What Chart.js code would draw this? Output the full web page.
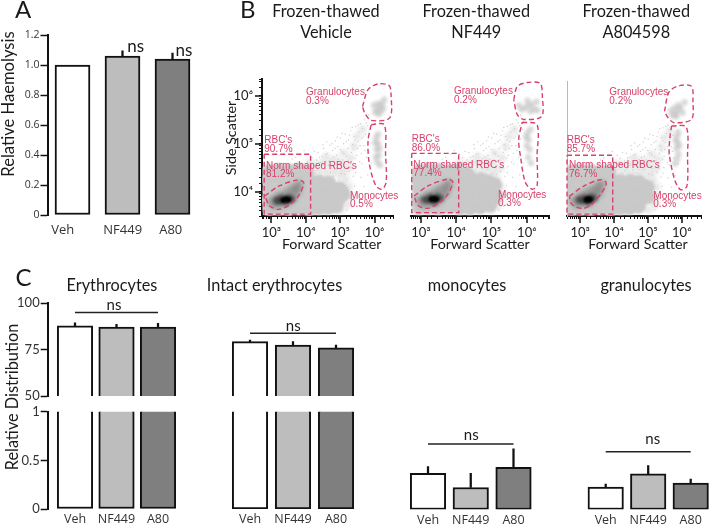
<!DOCTYPE html>
<html>
<head>
<meta charset="utf-8">
<script src="https://cdn.jsdelivr.net/npm/chart.js@4"></script>
<style>
    html, body { margin: 0; padding: 0; background: #fff; }
    body { position: relative; width: 709px; height: 525px; overflow: hidden; }
    canvas { position: absolute; }
</style>
</head>
<body>
<script>
// Bar panels: shared groups, then value / top of error bar for each panel
const groups = ["Veh", "NF449", "A80"];
const haemolysis = [1.0, 1.06, 1.04];
const haemolysisErr = [null, 1.095, 1.08];
const erythrocytes = [87.8, 87.2, 87.2];
const erythrocytesErr = [89.5, 88.7, 89.2];
const intact = [79.3, 77.4, 76.0];
const intactErr = [80.2, 79.3, 77.5];
const monocytes = [0.37, 0.225, 0.43];
const monocytesErr = [0.44, 0.37, 0.62];
const granulocytes = [0.23, 0.365, 0.27];
const granulocytesErr = [0.26, 0.45, 0.31];

// Height of the "ns" bracket in each panel
const erythrocytesNs = 95.1;
const intactNs = 83.8;
const monocytesNs = 0.67;
const granulocytesNs = 0.59;

// Flow plots: every pair is [log10 forward scatter, log10 side scatter]
const sparseDots = [[4.05,4.62],[4.12,4.48],[4.18,4.71],[4.22,4.55],[4.27,4.39],[4.31,4.66],[4.36,4.82],[4.38,4.5],[4.42,4.61],[4.45,4.34],[4.48,4.74],[4.52,4.9],[4.55,4.47],[4.57,4.63],[4.6,4.28],[4.63,4.8],[4.66,4.55],[4.7,4.97],[4.71,4.4],[4.74,4.69],[4.78,4.86],[4.8,4.32],[4.83,4.6],[4.86,5.06],[4.88,4.47],[4.9,4.76],[4.93,4.94],[4.96,4.25],[4.98,4.58],[5.01,5.12],[5.03,4.38],[5.05,4.83],[5.08,4.66],[5.1,5.0],[5.12,4.5],[5.15,5.2],[5.17,4.22],[5.19,4.74],[5.22,4.9],[5.24,5.08],[5.26,4.42],[5.29,4.6],[5.31,5.27],[5.33,4.82],[5.36,4.98],[5.38,4.32],[5.4,5.15],[5.43,4.7],[5.45,5.36],[5.47,4.52],[5.5,4.9],[5.52,5.05],[5.54,5.24],[5.57,4.62],[5.59,5.42],[5.62,4.8],[5.64,5.12],[5.66,5.32],[5.69,4.96],[5.71,5.5],[5.74,5.2],[5.77,4.72],[5.8,5.38],[5.83,5.6],
    [4.09,4.78],[4.16,4.6],[4.25,4.84],[4.33,4.45],[4.4,4.72],[4.47,4.56],[4.5,4.98],[4.58,4.78],[4.61,5.04],[4.68,4.64],[4.73,4.48],[4.76,5.0],[4.81,4.73],[4.85,4.9],[4.91,5.14],[4.95,4.68],[5.0,4.88],[5.06,5.22],[5.11,4.79],[5.14,4.36],[5.18,5.05],[5.23,4.66],[5.27,5.18],[5.32,4.5],[5.35,5.34],[5.39,4.88],[5.44,5.08],[5.48,4.76],[5.53,5.4],[5.58,4.96],[5.63,4.58],[5.68,5.16],[5.72,4.86],[5.76,5.44],[5.82,5.1],[5.88,5.3],[5.92,5.48],[5.6,4.3],[5.7,4.1],[5.5,3.95],[5.42,4.12],[5.62,3.85],[5.8,4.35],[5.9,4.6],[3.7,4.72],[3.85,4.78],[3.95,4.86],[3.6,4.68],[5.3,3.85],[5.35,3.7],[5.45,4.4],[5.2,3.62]];
const hazeDots = [[4.2,4.42],[4.4,4.42],[4.6,4.4],[4.8,4.4],[5.0,4.34],[5.15,4.26],[4.3,4.56],[4.5,4.6],[4.7,4.56],[4.9,4.5],[5.1,4.42],[4.1,4.6],[4.6,4.72],[4.85,4.66],[5.05,4.6],[5.25,4.5],[5.3,4.7],[5.1,4.8],[5.4,4.95],[5.5,5.15],[5.65,5.3],[5.25,4.1],[5.28,3.9],[5.2,3.72],[5.0,3.62]];

const bodyVehicle = [[2.95,3.64],[3.22,3.65],[3.5,3.64],[3.8,3.66],[4.1,3.64],[4.38,3.66],[4.65,3.67],[4.88,3.7],
    [2.9,3.82],[3.2,3.84],[3.52,3.83],[3.82,3.85],[4.1,3.82],[4.4,3.85],[4.7,3.84],[4.95,3.86],[5.08,3.95],
    [2.95,4.03],[3.25,4.05],[3.55,4.04],[3.85,4.06],[4.12,4.03],[4.42,4.06],[4.72,4.04],[4.98,4.06],
    [2.92,4.24],[3.22,4.26],[3.5,4.25],[3.8,4.26],[4.1,4.22],[4.38,4.2],[4.66,4.18],
    [2.95,4.42],[3.22,4.44],[3.52,4.43],[3.8,4.45],[4.02,4.4]];
const bodyNF449 = [[2.95,3.66],[3.22,3.67],[3.5,3.66],[3.8,3.68],[4.1,3.66],[4.38,3.66],[4.68,3.68],[4.95,3.72],
    [2.9,3.84],[3.2,3.85],[3.52,3.84],[3.82,3.86],[4.1,3.84],[4.4,3.86],[4.7,3.85],[4.98,3.86],[5.12,3.9],
    [2.95,4.05],[3.25,4.06],[3.55,4.05],[3.85,4.07],[4.12,4.05],[4.42,4.06],[4.72,4.06],[5.0,4.08],[5.08,4.14],
    [2.92,4.25],[3.22,4.27],[3.5,4.26],[3.8,4.27],[4.1,4.26],[4.4,4.27],[4.7,4.24],[4.9,4.2],
    [2.95,4.42],[3.22,4.45],[3.52,4.44],[3.8,4.42],[4.0,4.42],[4.3,4.36]];
const bodyA80 = [[2.75,3.64],[3.02,3.65],[3.3,3.64],[3.6,3.66],[3.9,3.64],[4.18,3.66],[4.45,3.67],[4.72,3.7],
    [2.72,3.82],[3.0,3.84],[3.32,3.83],[3.62,3.85],[3.9,3.82],[4.2,3.85],[4.5,3.84],[4.78,3.86],[5.0,3.9],
    [2.75,4.03],[3.05,4.05],[3.35,4.04],[3.65,4.06],[3.92,4.03],[4.22,4.06],[4.52,4.04],[4.8,4.06],[4.98,4.1],
    [2.72,4.24],[3.02,4.26],[3.3,4.25],[3.6,4.26],[3.9,4.24],[4.18,4.22],[4.48,4.22],[4.74,4.2],
    [2.75,4.42],[3.02,4.44],[3.32,4.43],[3.6,4.42],[3.85,4.42]];

const midVehicle = [[3.0,3.8],[3.1,3.72],[3.2,3.9],[3.3,3.75],[3.4,3.95],[3.5,3.8],[3.55,4.02],[3.65,3.9],[3.7,4.08],[3.8,4.14],[3.75,4.0],[3.25,3.82]];
const darkVehicle = [[3.14,3.82],[3.22,3.8],[3.3,3.87],[3.42,3.78],[3.5,3.88],[3.6,3.84]];
const coreVehicle = [[3.34,3.82],[3.42,3.84],[3.5,3.83]];
const midNF449 = [[2.98,3.82],[3.08,3.73],[3.18,3.92],[3.28,3.76],[3.38,3.97],[3.48,3.8],[3.52,4.04],[3.62,3.92],[3.68,4.1],[3.78,4.16],[3.72,4.0],[3.22,3.84]];
const darkNF449 = [[3.1,3.84],[3.2,3.82],[3.28,3.89],[3.38,3.78],[3.46,3.9],[3.56,3.86]];
const coreNF449 = [[3.3,3.84],[3.37,3.85],[3.44,3.84]];
const midA80 = [[2.82,3.82],[2.92,3.73],[3.02,3.92],[3.12,3.76],[3.2,3.98],[3.3,3.8],[3.36,4.04],[3.46,3.94],[3.52,4.1],[3.62,4.16],[3.55,4.0],[3.05,3.84]];
const darkA80 = [[2.96,3.84],[3.06,3.82],[3.14,3.88],[3.24,3.78],[3.32,3.9],[3.42,3.86]];
const coreA80 = [[3.18,3.83],[3.24,3.85],[3.3,3.84]];

const cellsVehicle = [[6.15,5.78],[6.08,5.72],[6.22,5.84],[6.02,5.66],[6.18,5.68],[6.28,5.92],[6.1,5.84],[5.98,5.8],[6.25,5.74],[6.12,5.62],
    [6.05,5.12],[6.1,5.0],[6.06,4.88],[6.12,4.76],[6.08,4.62],[6.14,4.9],[6.04,4.72],[6.1,5.2],[6.16,4.55],[6.02,5.02]];
const cellsNF449 = [[6.05,5.8],[5.95,5.75],[6.15,5.82],[5.85,5.72],[6.2,5.72],[6.28,5.88],[6.02,5.9],[5.78,5.8],[6.1,5.68],[6.3,5.7],
    [6.02,5.22],[6.05,5.08],[6.0,4.96],[6.08,4.88],[5.98,5.14],[6.1,5.3],[6.04,4.72],[6.12,4.6]];
const cellsA80 = [[5.88,5.72],[5.8,5.66],[5.96,5.78],[5.72,5.62],[6.02,5.68],[5.9,5.84],[5.78,5.78],[6.08,5.9],[5.84,5.6],[5.68,5.72],
    [5.86,5.18],[5.88,5.04],[5.84,4.92],[5.9,4.8],[5.82,5.1],[5.92,4.98],[5.86,4.7],[5.9,5.26],[5.8,4.6]];

// Gates
const rbcVehicle = [[2.79,4.78],[4.14,4.78],[4.14,3.53],[2.79,3.53],[2.79,4.78]];
const rbcNF449 = [[2.74,4.8],[4.07,4.8],[4.07,3.56],[2.74,3.56],[2.74,4.8]];
const rbcA80 = [[2.61,4.78],[3.96,4.78],[3.96,3.53],[2.61,3.53],[2.61,4.78]];
const normVehicle = [[2.81,3.91],[3.23,4.12],[3.75,4.24],[3.94,4.19],[3.79,3.91],[3.56,3.74],[3.23,3.63],[2.95,3.7],[2.81,3.91]];
const normNF449 = [[2.81,3.91],[3.2,4.12],[3.76,4.26],[3.9,4.2],[3.76,3.94],[3.53,3.77],[3.2,3.65],[2.92,3.71],[2.81,3.91]];
const normA80 = [[2.68,3.91],[3.12,4.13],[3.59,4.26],[3.77,4.19],[3.63,3.98],[3.35,3.74],[3.07,3.65],[2.75,3.74],[2.68,3.91]];
const granVehicle = [[5.65,5.78],[5.81,6.13],[6.09,6.25],[6.42,6.22],[6.48,6.03],[6.44,5.54],[5.9,5.49],[5.71,5.65],[5.65,5.78]];
const granNF449 = [[5.63,5.92],[5.73,6.2],[6.01,6.28],[6.38,6.26],[6.44,5.99],[6.42,5.57],[5.91,5.51],[5.73,5.61],[5.63,5.92]];
const granA80 = [[5.49,5.71],[5.63,6.13],[5.96,6.26],[6.29,6.24],[6.33,5.92],[6.29,5.54],[5.77,5.47],[5.59,5.58],[5.49,5.71]];
const monoVehicle = [[5.9,5.4],[6.28,5.4],[6.32,4.78],[6.34,4.22],[6.23,4.05],[6.04,4.12],[5.85,4.57],[5.81,5.05],[5.9,5.4]];
const monoNF449 = [[5.87,5.45],[6.29,5.4],[6.29,4.74],[6.29,4.12],[6.15,4.05],[5.96,4.19],[5.82,4.74],[5.77,5.09],[5.87,5.45]];
const monoA80 = [[5.7,5.4],[6.13,5.38],[6.17,4.74],[6.15,4.12],[5.96,4.05],[5.79,4.26],[5.63,4.81],[5.65,5.16],[5.7,5.4]];

const gateRed = "#d8416b";
const ink = "#111";
const titleFont = "Lato, sans-serif";
const gateFont = "10px 'Liberation Sans', Arial, sans-serif";
const superscripts = { 3: "\u00b3", 4: "\u2074", 5: "\u2075", 6: "\u2076" };

// Free text (page coordinates), the long decade ticks and the soft edges of the dense layers
const panelExtras = {
    id: "panelExtras",
    beforeDatasetDraw(chart, args) {
        if (args.meta.controller.getDataset().blur) {
            chart.ctx.filter = "blur(" + args.meta.controller.getDataset().blur + "px)";
        }
    },
    afterDatasetDraw(chart) {
        chart.ctx.filter = "none";
    },
    afterDraw(chart) {
        const ctx = chart.ctx;
        const box = chart.options.plugins.panelExtras;
        if (box.decades) {
            ctx.save();
            ctx.strokeStyle = ink;
            ctx.lineWidth = 1.5;
            ctx.beginPath();
            chart.scales.x.ticks.forEach(function (t) {
                if (Number.isInteger(Math.round(Math.log10(t.value) * 1000) / 1000)) {
                    const px = Math.round(chart.scales.x.getPixelForValue(t.value));
                    ctx.moveTo(px, chart.chartArea.bottom);
                    ctx.lineTo(px, chart.chartArea.bottom + 7);
                }
            });
            if (box.sideAxis) {
                chart.scales.y.ticks.forEach(function (t) {
                    if (Number.isInteger(Math.round(Math.log10(t.value) * 1000) / 1000)) {
                        const py = Math.round(chart.scales.y.getPixelForValue(t.value));
                        ctx.moveTo(chart.chartArea.left, py);
                        ctx.lineTo(chart.chartArea.left - 7, py);
                    }
                });
            }
            ctx.stroke();
            ctx.restore();
        }
        box.notes.forEach(function (n) {
            ctx.save();
            ctx.translate(n.x - box.left, n.y - box.top);
            if (n.rotate) ctx.rotate(n.rotate);
            ctx.font = n.font;
            ctx.fillStyle = n.color || "#1a1a1a";
            ctx.textAlign = n.align || "center";
            ctx.textBaseline = "middle";
            ctx.fillText(n.text, 0, 0);
            ctx.restore();
        });
    },
};

function addCanvas(box) {
    const canvas = document.createElement("canvas");
    canvas.width = box.width;
    canvas.height = box.height;
    canvas.style.left = box.left + "px";
    canvas.style.top = box.top + "px";
    document.body.appendChild(canvas);
    return canvas;
}

function heading(text, x, y) { return { text: text, x: x, y: y, font: "16.3px " + titleFont }; }
function letter(text, x, y) { return { text: text, x: x, y: y, font: "24px " + titleFont, align: "left" }; }
function ns(x, y) { return { text: "ns", x: x, y: y, font: "15px " + titleFont }; }
function groupLabel(text, x, y) { return { text: text, x: x, y: y, font: "13px 'Open Sans', sans-serif", color: "#333" }; }

/**
 * One bar panel. plot is the page position of the axes; first and step place the bars on the page.
 */
function barChart(opts) {
    const box = opts.box, plot = opts.plot;
    const fills = ["#ffffff", "#bdbdbd", "#7f7f7f"];
    const datasets = [];
    if (opts.bracket !== undefined) {
        datasets.push({
            type: "line",
            data: [{ x: 0, y: opts.bracket }, { x: 2, y: opts.bracket }],
            borderColor: "#222",
            borderWidth: 1.5,
            pointRadius: 0,
        });
    }
    datasets.push({
        data: opts.values.map((v, i) => ({ x: i, y: v })),
        backgroundColor: fills,
        borderColor: ink,
        borderWidth: 2,
        borderSkipped: opts.openSide || false,
        barThickness: opts.barWidth,
        grouped: false,
    });
    if (opts.errors) {
        datasets.push({
            data: opts.values
                .map((v, i) => ({ x: i, y: [v, opts.errors[i]] }))
                .filter((d) => d.y[1] !== null),
            backgroundColor: ink,
            borderWidth: 0,
            barThickness: 1.6,
            grouped: false,
        });
    }
    const xAxis = {
        type: "linear",
        offset: false,
        display: !!opts.showGroups,
        min: (plot.left - opts.first) / opts.step,
        max: (plot.right - opts.first) / opts.step,
        grid: { display: false, drawTicks: false },
        border: { display: false },
        ticks: {
            stepSize: 1,
            includeBounds: false,
            autoSkip: false,
            maxRotation: 0,
            padding: 3,
            color: "#333",
            font: { family: "'Open Sans', sans-serif", size: 12.5 },
            callback: (v) => groups[v],
        },
    };
    if (opts.showGroups) {
        xAxis.afterFit = (s) => { s.height = box.top + box.height - plot.bottom; };
    }
    new Chart(addCanvas(box), {
        type: "bar",
        data: { datasets: datasets },
        plugins: [panelExtras],
        options: {
            responsive: false,
            animation: false,
            events: [],
            layout: { padding: { top: plot.top - box.top, right: box.left + box.width - plot.right, left: 0, bottom: opts.showGroups ? 0 : box.top + box.height - plot.bottom } },
            plugins: {
                legend: { display: false },
                tooltip: { enabled: false },
                panelExtras: { left: box.left, top: box.top, notes: opts.notes || [] },
            },
            scales: {
                x: xAxis,
                y: {
                    min: opts.min,
                    max: opts.max,
                    afterFit: (s) => { s.width = plot.left - box.left; },
                    grid: opts.axis ? { drawOnChartArea: false, tickLength: 7, tickWidth: 1.5, tickColor: ink } : { display: false },
                    border: { display: !!opts.axis, color: ink, width: 2 },
                    ticks: {
                        display: !!opts.axis,
                        stepSize: opts.stepSize,
                        padding: 1,
                        color: "#333",
                        font: opts.tickFont,
                        callback: opts.tickText,
                    },
                },
            },
        },
    });
}

/** One flow cytometry plot. All the layers are lists of decade pairs. */
function flowChart(opts) {
    const box = opts.box, plot = opts.plot;
    const toPoints = (list) => list.map((p) => ({ x: Math.pow(10, p[0]), y: Math.pow(10, p[1]) }));
    const dots = (list, color, radius, blur) => ({
        data: toPoints(list), backgroundColor: color, borderWidth: 0, pointRadius: radius, showLine: false, blur: blur,
    });
    const gate = (list, tension) => ({
        data: toPoints(list), showLine: true, borderColor: gateRed, borderWidth: 1.4, borderDash: [5, 3],
        pointRadius: 0, tension: tension, clip: false,
    });
    const bottomUp = [
        dots(hazeDots, "#e4e4e4", 4, 2),
        dots(sparseDots, "#cecece", 0.7),
        dots(opts.body, "#c9c9c9", 7.6, 1),
        dots(opts.cells, "rgba(190,190,190,0.6)", 3.2, 1.5),
        dots(opts.mid, "rgba(120,120,120,0.5)", 4.5, 2),
        dots(opts.dark, "rgba(50,50,50,0.6)", 3.6, 1.8),
        dots(opts.core, "rgba(0,0,0,0.95)", 3, 1.2),
        gate(opts.rbc, 0),
        gate(opts.norm, 0.3),
        gate(opts.gran, 0.3),
        gate(opts.mono, 0.3),
    ];
    new Chart(addCanvas(box), {
        type: "scatter",
        data: { datasets: bottomUp.reverse() },
        plugins: [panelExtras],
        options: {
            responsive: false,
            animation: false,
            events: [],
            layout: { padding: { top: plot.top - box.top, right: box.left + box.width - plot.right, left: 0, bottom: 0 } },
            plugins: {
                legend: { display: false },
                tooltip: { enabled: false },
                panelExtras: { left: box.left, top: box.top, notes: opts.notes, decades: true, sideAxis: opts.sideAxis },
            },
            scales: {
                x: {
                    type: "logarithmic",
                    min: Math.pow(10, opts.xFrom),
                    max: Math.pow(10, opts.xTo),
                    afterFit: (s) => { s.height = box.top + box.height - plot.bottom; },
                    grid: { drawOnChartArea: false, tickLength: 3, tickWidth: 1, tickColor: ink },
                    border: { color: ink, width: 2 },
                    ticks: {
                        autoSkip: false,
                        maxRotation: 0,
                        padding: 6,
                        color: "#222",
                        font: { family: titleFont, size: 13 },
                        callback: decadeLabel,
                    },
                },
                y: {
                    type: "logarithmic",
                    min: Math.pow(10, 3.49),
                    max: Math.pow(10, 6.354),
                    afterFit: (s) => { s.width = plot.left - box.left; },
                    grid: opts.sideAxis ? { drawOnChartArea: false, tickLength: 3, tickWidth: 1, tickColor: ink } : { display: false },
                    border: { display: opts.sideAxis || !!opts.sideColor, color: opts.sideColor || ink, width: opts.sideColor ? 1 : 2 },
                    ticks: {
                        display: !!opts.sideAxis,
                        autoSkip: false,
                        padding: 6,
                        color: "#222",
                        font: { family: titleFont, size: 13 },
                        callback: decadeLabel,
                    },
                },
            },
        },
    });
}

function decadeLabel(value) {
    const e = Math.log10(value);
    if (Math.abs(e - Math.round(e)) > 0.001) return "";
    return "10" + superscripts[Math.round(e)];
}

function gateText(text, x, y) {
    return { text: text, x: x, y: y, font: gateFont, color: gateRed, align: "left" };
}

function flowNotes(title, centre, xTitle, l) {
    return [
        heading("Frozen-thawed", centre, 11.7),
        heading(title, centre, 32.7),
        { text: "Forward Scatter", x: xTitle, y: 244, font: "14.3px " + titleFont },
        gateText("Granulocytes", l.gran[0], l.gran[1]), gateText(l.pct[0], l.gran[0], l.gran[1] + 9),
        gateText("RBC's", l.rbc[0], l.rbc[1]), gateText(l.pct[1], l.rbc[0], l.rbc[1] + 9),
        gateText("Norm shaped RBC's", l.norm[0], l.norm[1]), gateText(l.pct[2], l.norm[0], l.norm[1] + 8.7),
        gateText("Monocytes", l.mono[0], l.mono[1]), gateText(l.pct[3], l.mono[0], l.mono[1] + 8.7),
    ];
}

// Panel A
const oneDecimal = (v) => (v === 0 ? "0" : v.toFixed(1));
barChart({
    box: { left: 0, top: 0, width: 225, height: 250 },
    plot: { left: 47.5, right: 197.5, top: 35, bottom: 215 },
    first: 72.5, step: 50, barWidth: 35,
    values: haemolysis, errors: haemolysisErr,
    min: 0, max: 1.2, stepSize: 0.2, axis: true,
    tickFont: { family: "'Open Sans', sans-serif", size: 10.5 }, tickText: oneDecimal,
    notes: [
        letter("A", 15, 10),
        { text: "Relative Haemolysis", x: 8.5, y: 104, font: "16.6px " + titleFont, rotate: -Math.PI / 2 },
        groupLabel(groups[0], 62.7, 230), groupLabel(groups[1], 122.7, 230), groupLabel(groups[2], 170.7, 230),
        { text: "ns", x: 135.7, y: 47, font: "17px " + titleFont },
        { text: "ns", x: 184, y: 51, font: "17px " + titleFont },
    ],
});

// Panel B
flowChart({
    box: { left: 225, top: 0, width: 176, height: 255 },
    plot: { left: 262, right: 398, top: 79, bottom: 216 },
    xFrom: 2.727, xTo: 6.548, sideAxis: true,
    body: bodyVehicle, mid: midVehicle, dark: darkVehicle, core: coreVehicle, cells: cellsVehicle,
    rbc: rbcVehicle, norm: normVehicle, gran: granVehicle, mono: monoVehicle,
    notes: flowNotes("Vehicle", 326, 331.7, {
        gran: [306, 92.7], rbc: [264.3, 140.7], norm: [266, 166], mono: [350, 196],
        pct: ["0.3%", "90.7%", "81.2%", "0.5%"],
    }).concat([
        letter("B", 240, 10),
        { text: "Side Scatter", x: 231, y: 138, font: "14.3px " + titleFont, rotate: -Math.PI / 2 },
    ]),
});
flowChart({
    box: { left: 402, top: 0, width: 155, height: 255 },
    plot: { left: 411, right: 551, top: 79, bottom: 216 },
    xFrom: 2.72, xTo: 6.64,
    body: bodyNF449, mid: midNF449, dark: darkNF449, core: coreNF449, cells: cellsNF449,
    rbc: rbcNF449, norm: normNF449, gran: granNF449, mono: monoNF449,
    notes: flowNotes("NF449", 476.3, 480, {
        gran: [454, 91.7], rbc: [411.7, 139.3], norm: [413.3, 165], mono: [498, 195],
        pct: ["0.2%", "86.0%", "77.4%", "0.3%"],
    }),
});
flowChart({
    box: { left: 558, top: 0, width: 151, height: 255 },
    plot: { left: 567, right: 709, top: 81, bottom: 216 },
    xFrom: 2.61, xTo: 6.58, sideColor: "#b4b4dc",
    body: bodyA80, mid: midA80, dark: darkA80, core: coreA80, cells: cellsA80,
    rbc: rbcA80, norm: normA80, gran: granA80, mono: monoA80,
    notes: flowNotes("A804598", 636.3, 638, {
        gran: [609.3, 92.3], rbc: [566.7, 140], norm: [569, 165.7], mono: [653.3, 196],
        pct: ["0.2%", "85.7%", "76.7%", "0.3%"],
    }),
});

// Panel C: the first two panels have a broken axis, upper part 50-100 and lower part 0-1
const asIs = (v) => String(v);
const cTickFont = { family: titleFont, size: 13 };
barChart({
    box: { left: 0, top: 265, width: 200, height: 215 },
    plot: { left: 47.7, right: 180, top: 303.3, bottom: 396 },
    first: 75, step: 41.5, barWidth: 35.5,
    values: erythrocytes, errors: erythrocytesErr, bracket: erythrocytesNs, openSide: "bottom",
    min: 50, max: 100, stepSize: 25, axis: true, tickFont: cTickFont, tickText: asIs,
    notes: [
        letter("C", 15.5, 278),
        heading("Erythrocytes", 112, 286),
        ns(114, 305),
        { text: "Relative Distribution", x: 12.5, y: 397, font: "16.3px " + titleFont, rotate: -Math.PI / 2 },
    ],
});
barChart({
    box: { left: 0, top: 400, width: 200, height: 125 },
    plot: { left: 47.7, right: 180, top: 411.7, bottom: 509 },
    first: 75, step: 41.5, barWidth: 35.5, showGroups: true,
    values: erythrocytes, openSide: "top",
    min: 0, max: 1, stepSize: 0.5, axis: true, tickFont: cTickFont, tickText: asIs,
});
barChart({
    box: { left: 200, top: 265, width: 167, height: 150 },
    plot: { left: 228, right: 358, top: 303.3, bottom: 396 },
    first: 250, step: 43, barWidth: 35.5,
    values: intact, errors: intactErr, bracket: intactNs, openSide: "bottom",
    min: 50, max: 100,
    notes: [heading("Intact erythrocytes", 274.5, 286), ns(293.3, 326)],
});
barChart({
    box: { left: 222, top: 400, width: 145, height: 125 },
    plot: { left: 228, right: 358, top: 411.7, bottom: 509 },
    first: 250, step: 43, barWidth: 35.5, showGroups: true,
    values: intact, openSide: "top",
    min: 0, max: 1,
});
barChart({
    box: { left: 400, top: 270, width: 140, height: 255 },
    plot: { left: 405, right: 535, top: 411.7, bottom: 509.5 },
    first: 428, step: 42.75, barWidth: 35.5, showGroups: true,
    values: monocytes, errors: monocytesErr, bracket: monocytesNs,
    min: 0, max: 1,
    notes: [heading("monocytes", 467, 286), ns(471.3, 435)],
});
barChart({
    box: { left: 575, top: 270, width: 134, height: 255 },
    plot: { left: 583, right: 709, top: 411.7, bottom: 509.5 },
    first: 605.7, step: 42.5, barWidth: 35.5, showGroups: true,
    values: granulocytes, errors: granulocytesErr, bracket: granulocytesNs,
    min: 0, max: 1,
    notes: [heading("granulocytes", 646, 286), ns(652.7, 439.3)],
});
</script>
</body>
</html>
